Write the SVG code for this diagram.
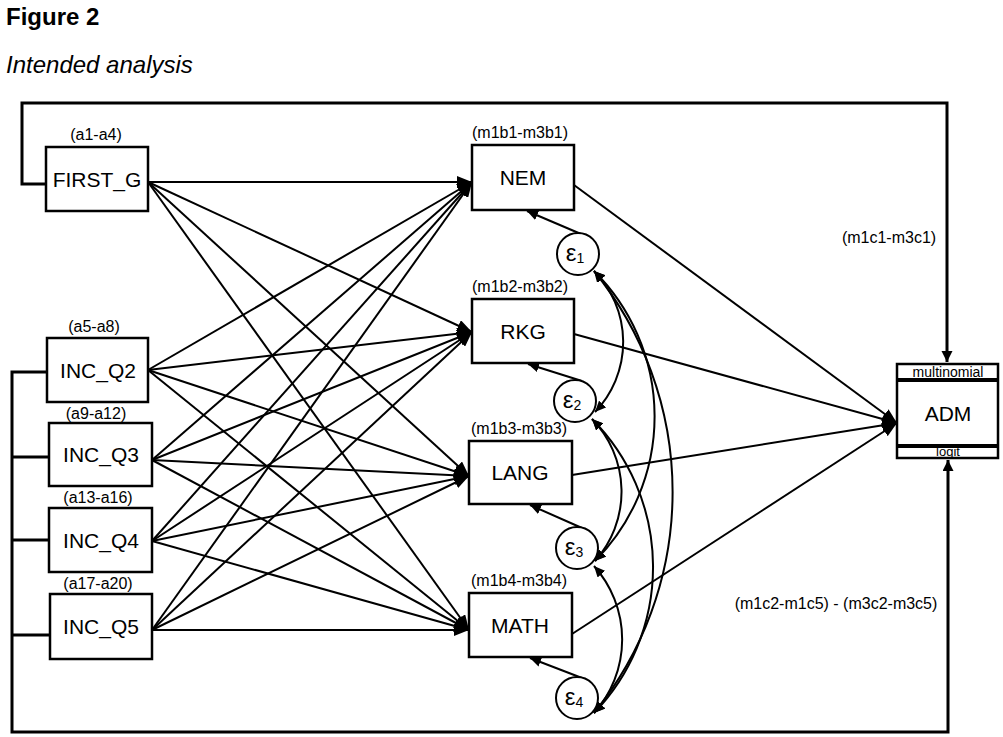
<svg xmlns="http://www.w3.org/2000/svg" width="1003" height="737" viewBox="0 0 1003 737">
<style>
.bg{fill:#fff}
.box{fill:#fff;stroke:#000;stroke-width:2.5}
.frame{fill:none;stroke:#000;stroke-width:3}
.edge{fill:none;stroke:#000;stroke-width:2;marker-end:url(#ah)}
.res{fill:none;stroke:#000;stroke-width:2;marker-end:url(#sh)}
.cov{fill:none;stroke:#000;stroke-width:2;marker-start:url(#sh2);marker-end:url(#sh2)}
.lbl{font-family:"Liberation Sans",Arial,sans-serif;font-size:21px;text-anchor:middle;fill:#000}
.sm{font-family:"Liberation Sans",Arial,sans-serif;font-size:16px;text-anchor:middle;fill:#000}
.eps{font-family:"Liberation Sans",Arial,sans-serif;font-size:24px;text-anchor:middle;fill:#000}
</style>
<defs>
<marker id="ah" markerUnits="userSpaceOnUse" markerWidth="16" markerHeight="12" refX="15" refY="6" orient="auto"><path d="M0,0 L15,6 L0,12 z" fill="#000"/></marker>
<marker id="sh" markerUnits="userSpaceOnUse" markerWidth="12" markerHeight="10" refX="11" refY="5" orient="auto"><path d="M0,0 L11,5 L0,10 z" fill="#000"/></marker>
<marker id="sh2" markerUnits="userSpaceOnUse" markerWidth="12" markerHeight="10" refX="11" refY="5" orient="auto-start-reverse"><path d="M0,0 L11,5 L0,10 z" fill="#000"/></marker>
<marker id="vh" markerUnits="userSpaceOnUse" markerWidth="12" markerHeight="12" refX="11" refY="5.5" orient="auto"><path d="M0,0 L11,5.5 L0,11 z" fill="#000"/></marker>
</defs>
<rect class="bg" x="0" y="0" width="1003" height="737"/>
<text x="6" y="25" font-family="Liberation Sans,Arial,sans-serif" font-size="24" font-weight="bold">Figure 2</text>
<text x="6" y="73" font-family="Liberation Sans,Arial,sans-serif" font-size="24" font-style="italic">Intended analysis</text>

<g id="connectors">
<polyline class="frame" points="46,184 22,184 22,103 947,103 947,352"/>
<path d="M947,352 L947,362" stroke="#000" stroke-width="3" marker-end="url(#vh)"/>
<polyline class="frame" points="47,372 12,372 12,732 948,732 948,470"/>
<path d="M948,470 L948,460" stroke="#000" stroke-width="3" marker-end="url(#vh)"/>
<line class="frame" x1="12" y1="457" x2="49" y2="457"/>
<line class="frame" x1="12" y1="540" x2="49" y2="540"/>
<line class="frame" x1="12" y1="635" x2="50" y2="635"/>
<line class="edge" x1="148" y1="182" x2="472" y2="182"/>
<line class="edge" x1="148" y1="182" x2="472" y2="332"/>
<line class="edge" x1="148" y1="182" x2="469" y2="476"/>
<line class="edge" x1="148" y1="182" x2="469" y2="630"/>
<line class="edge" x1="148" y1="370" x2="472" y2="182"/>
<line class="edge" x1="148" y1="370" x2="472" y2="332"/>
<line class="edge" x1="148" y1="370" x2="469" y2="476"/>
<line class="edge" x1="148" y1="370" x2="469" y2="630"/>
<line class="edge" x1="152" y1="460" x2="472" y2="182"/>
<line class="edge" x1="152" y1="460" x2="472" y2="332"/>
<line class="edge" x1="152" y1="460" x2="469" y2="476"/>
<line class="edge" x1="152" y1="460" x2="469" y2="630"/>
<line class="edge" x1="152" y1="541" x2="472" y2="182"/>
<line class="edge" x1="152" y1="541" x2="472" y2="332"/>
<line class="edge" x1="152" y1="541" x2="469" y2="476"/>
<line class="edge" x1="152" y1="541" x2="469" y2="630"/>
<line class="edge" x1="152" y1="630" x2="472" y2="182"/>
<line class="edge" x1="152" y1="630" x2="472" y2="332"/>
<line class="edge" x1="152" y1="630" x2="469" y2="476"/>
<line class="edge" x1="152" y1="630" x2="469" y2="630"/>
<line class="edge" x1="574" y1="185" x2="897" y2="423"/>
<line class="edge" x1="574" y1="334" x2="897" y2="423"/>
<line class="edge" x1="572" y1="475" x2="897" y2="423"/>
<line class="edge" x1="572" y1="634" x2="897" y2="423"/>
<line class="res" x1="581" y1="234" x2="527" y2="211"/>
<line class="res" x1="582" y1="381" x2="528" y2="364"/>
<line class="res" x1="582" y1="528" x2="530" y2="505"/>
<line class="res" x1="582" y1="678" x2="530" y2="658"/>
<path class="cov" d="M594,271 A101,101 0 0 1 595,412"/>
<path class="cov" d="M594,271 A205,205 0 0 1 595,561"/>
<path class="cov" d="M594,271 A350,350 0 0 1 594,713"/>
<path class="cov" d="M592,419 A104,104 0 0 1 595,561"/>
<path class="cov" d="M592,419 A210,210 0 0 1 594,713"/>
<path class="cov" d="M594,566 A110,110 0 0 1 594,713"/>
</g>

<g id="FIRST_G"><text class="sm" x="96" y="140">(a1-a4)</text><rect class="box" x="46" y="147" width="102" height="64"/><text class="lbl" x="97" y="187">FIRST_G</text></g>
<g id="INC_Q2"><text class="sm" x="94" y="332">(a5-a8)</text><rect class="box" x="47" y="338" width="101" height="64"/><text class="lbl" x="98" y="378">INC_Q2</text></g>
<g id="INC_Q3"><text class="sm" x="96" y="419">(a9-a12)</text><rect class="box" x="49" y="423" width="103" height="63"/><text class="lbl" x="101" y="462">INC_Q3</text></g>
<g id="INC_Q4"><text class="sm" x="98" y="503">(a13-a16)</text><rect class="box" x="49" y="508" width="103" height="64"/><text class="lbl" x="101" y="548">INC_Q4</text></g>
<g id="INC_Q5"><text class="sm" x="98" y="589">(a17-a20)</text><rect class="box" x="50" y="594" width="102" height="65"/><text class="lbl" x="101" y="634">INC_Q5</text></g>

<g id="NEM"><text class="sm" x="520" y="138">(m1b1-m3b1)</text><rect class="box" x="472" y="145" width="102" height="65"/><text class="lbl" x="523" y="185">NEM</text></g>
<g id="RKG"><text class="sm" x="520" y="292">(m1b2-m3b2)</text><rect class="box" x="472" y="299" width="102" height="64"/><text class="lbl" x="523" y="339">RKG</text></g>
<g id="LANG"><text class="sm" x="519" y="434">(m1b3-m3b3)</text><rect class="box" x="469" y="441" width="103" height="63"/><text class="lbl" x="520" y="480">LANG</text></g>
<g id="MATH"><text class="sm" x="519" y="586">(m1b4-m3b4)</text><rect class="box" x="469" y="593" width="103" height="64"/><text class="lbl" x="520" y="633">MATH</text></g>

<g id="e1"><circle cx="578" cy="254" r="21" fill="#fff" stroke="#000" stroke-width="2"/><text class="eps" x="575" y="261">ε<tspan font-size="14" dy="2">1</tspan></text></g>
<g id="e2"><circle cx="575" cy="401" r="21" fill="#fff" stroke="#000" stroke-width="2"/><text class="eps" x="572" y="408">ε<tspan font-size="14" dy="2">2</tspan></text></g>
<g id="e3"><circle cx="577" cy="548" r="21" fill="#fff" stroke="#000" stroke-width="2"/><text class="eps" x="574" y="555">ε<tspan font-size="14" dy="2">3</tspan></text></g>
<g id="e4"><circle cx="577" cy="698" r="21" fill="#fff" stroke="#000" stroke-width="2"/><text class="eps" x="574" y="705">ε<tspan font-size="14" dy="2">4</tspan></text></g>

<g id="ADM">
<rect class="box" x="897" y="364" width="101" height="94"/>
<line x1="897" y1="380" x2="998" y2="380" stroke="#000" stroke-width="4"/>
<line x1="897" y1="446" x2="998" y2="446" stroke="#000" stroke-width="4"/>
<text x="948" y="377" font-family="Liberation Sans,Arial,sans-serif" font-size="14" text-anchor="middle">multinomial</text>
<text class="lbl" x="948" y="421">ADM</text>
<text x="948" y="456" font-family="Liberation Sans,Arial,sans-serif" font-size="13" text-anchor="middle">logit</text>
</g>

<text class="sm" x="889" y="243">(m1c1-m3c1)</text>
<text class="sm" x="836" y="609">(m1c2-m1c5) - (m3c2-m3c5)</text>
</svg>
